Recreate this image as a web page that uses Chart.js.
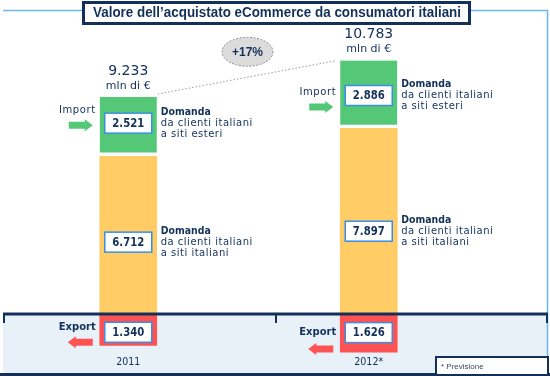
<!DOCTYPE html>
<html>
<head>
<meta charset="utf-8">
<script src="https://cdn.jsdelivr.net/npm/chart.js@4"></script>
<style>
  body { margin: 0; background: #fff; }
</style>
</head>
<body>
<canvas id="chart" width="550" height="376"></canvas>
<script>
// valori in milioni di euro
const years = ["2011", "2012*"];
const importVals = [2521, 2886];   // domanda da clienti italiani a siti esteri
const domesticVals = [6712, 7897]; // domanda da clienti italiani a siti italiani
const exportVals = [1340, 1626];   // export, disegnato sotto l'asse

const navy = "#12305a";
const boxBlue = "#3b8ee6";
const frameBlue = "#6cb6f0";
const green = "#55c878";
const yellow = "#ffcc66";
const red = "#ff5252";

const fmt = (v) => String(v).replace(/\B(?=(\d{3})+(?!\d))/g, ".");

function txt(ctx, s, x, y, font, color, align, maxW, spacing) {
  ctx.save();
  ctx.font = font;
  ctx.fillStyle = color;
  ctx.textAlign = align || "center";
  ctx.textBaseline = "middle";
  ctx.letterSpacing = spacing || "0px";
  if (maxW) ctx.fillText(s, x, y, maxW);
  else ctx.fillText(s, x, y);
  ctx.restore();
}

function arrow(ctx, from, to, y, color) {
  const dir = Math.sign(to - from), head = 8;
  ctx.fillStyle = color;
  ctx.beginPath();
  ctx.moveTo(from, y - 3.5);
  ctx.lineTo(to - dir * head, y - 3.5);
  ctx.lineTo(to - dir * head, y - 6);
  ctx.lineTo(to, y);
  ctx.lineTo(to - dir * head, y + 6);
  ctx.lineTo(to - dir * head, y + 3.5);
  ctx.lineTo(from, y + 3.5);
  ctx.closePath();
  ctx.fill();
}

function valueBox(ctx, cx, cy, s) {
  ctx.fillStyle = "#fff";
  ctx.fillRect(cx - 23.5, cy - 10, 47, 20);
  ctx.strokeStyle = boxBlue;
  ctx.lineWidth = 1.5;
  ctx.strokeRect(cx - 23.5, cy - 10, 47, 20);
  txt(ctx, s, cx, cy + 0.5, "bold 12px 'DejaVu Sans'", navy, "center", 32);
}

function describe(ctx, x, cy, lines) {
  txt(ctx, lines[0], x, cy - 11, "bold 10px 'DejaVu Sans'", navy, "left", 50);
  txt(ctx, lines[1], x, cy, "10px 'DejaVu Sans'", navy, "left", 92, "0.5px");
  txt(ctx, lines[2], x, cy + 11, "10px 'DejaVu Sans'", navy, "left", 92, "0.5px");
}

const backdrop = {
  id: "backdrop",
  beforeDatasetsDraw(chart) {
    const ctx = chart.ctx;
    const y0 = chart.scales.y.getPixelForValue(0);
    ctx.save();
    // fascia azzurra sotto l'asse
    ctx.fillStyle = "#e8f0f8";
    ctx.fillRect(3, y0, 544, 374 - y0);
    // cornice
    ctx.strokeStyle = frameBlue;
    ctx.lineWidth = 1.5;
    ctx.beginPath();
    ctx.moveTo(3, 10.5);
    ctx.lineTo(547.5, 10.5);
    ctx.lineTo(547.5, 374);
    ctx.stroke();
    ctx.restore();
  },
  afterDatasetsDraw(chart) {
    const ctx = chart.ctx;
    const y = chart.scales.y;
    const y0 = y.getPixelForValue(0);
    const dom = chart.getDatasetMeta(0).data;
    const imp = chart.getDatasetMeta(1).data;
    const exp = chart.getDatasetMeta(2).data;
    ctx.save();

    // asse e tacche
    ctx.fillStyle = navy;
    ctx.fillRect(3, y0 - 1.5, 545, 3);
    [3, 275, 546].forEach((x) => ctx.fillRect(x, y0, 2, 9));
    ctx.fillRect(0, 373, 550, 3);

    const gBoxDy = [-3.5, 1], yBoxDy = [7, 10], rBoxDy = [2.5, -0.5];
    const importDy = [-13, -3.5], expLblDy = [-5, 0], expArrDy = [10, 16.5];
    const totals = years.map((_, i) => importVals[i] + domesticVals[i]);

    years.forEach((lab, i) => {
      const g = imp[i], d = dom[i], r = exp[i];
      const left = g.x - g.width / 2, right = g.x + g.width / 2;

      // totale
      txt(ctx, fmt(totals[i]), g.x, g.y - 26, "14px 'DejaVu Sans'", navy);
      txt(ctx, "mln di €", g.x, g.y - 11, "11px 'DejaVu Sans'", navy);

      // import
      const gc = (g.y + g.base) / 2 + gBoxDy[i];
      valueBox(ctx, g.x, gc, fmt(importVals[i]));
      describe(ctx, right + 4, gc, ["Domanda", "da clienti italiani", "a siti esteri"]);
      txt(ctx, "Import", left - 4, gc + importDy[i], "10px 'DejaVu Sans'", navy, "right", 37, "0.6px");
      arrow(ctx, left - 31, left - 7, gc + importDy[i] + 15, green);

      // domanda interna
      const dc = (d.y + d.base) / 2 + yBoxDy[i];
      valueBox(ctx, d.x, dc, fmt(domesticVals[i]));
      describe(ctx, right + 4, dc, ["Domanda", "da clienti italiani", "a siti italiani"]);

      // export
      const rc = (r.y + r.base) / 2 + rBoxDy[i];
      valueBox(ctx, r.x, rc, fmt(exportVals[i]));
      txt(ctx, "Export", left - 4, rc + expLblDy[i], "bold 10px 'DejaVu Sans'", navy, "right", 37);
      arrow(ctx, left - 7, left - 32, rc + expArrDy[i], red);

      // anno
      txt(ctx, lab, g.x, 362, "10px 'DejaVu Sans'", navy, "center", lab.length > 4 ? 29 : 24);
    });

    // linea tratteggiata tra i totali e crescita
    const a = imp[0], b = imp[1];
    ctx.strokeStyle = "#9a9a9a";
    ctx.lineWidth = 1;
    ctx.setLineDash([1.5, 2]);
    ctx.beginPath();
    ctx.moveTo(a.x + a.width / 2 + 1, a.y - 3);
    ctx.lineTo(b.x - b.width / 2 - 4, b.y);
    ctx.stroke();

    const ex = (a.x + b.x) / 2 - 1, ey = (a.y + b.y) / 2 - 27;
    ctx.setLineDash([2, 1.5]);
    ctx.fillStyle = "#dcdcdc";
    ctx.strokeStyle = "#8c8c8c";
    ctx.beginPath();
    ctx.ellipse(ex, ey, 25.5, 14.5, 0, 0, Math.PI * 2);
    ctx.fill();
    ctx.stroke();
    ctx.setLineDash([]);
    const growth = Math.round((totals[1] / totals[0] - 1) * 100);
    txt(ctx, "+" + growth + "%", ex, ey + 0.5, "bold 12px 'Liberation Sans'", navy);

    // titolo
    ctx.fillStyle = "#fff";
    ctx.fillRect(83, 2, 387, 22);
    ctx.strokeStyle = navy;
    ctx.lineWidth = 3;
    ctx.strokeRect(83.5, 2.5, 386, 21);
    txt(ctx, "Valore dell’acquistato eCommerce da consumatori italiani", 277, 13.5,
      "bold 14px 'Liberation Sans'", navy, "center", 368);

    // nota
    ctx.fillStyle = "#fff";
    ctx.fillRect(436, 357, 113, 18);
    ctx.lineWidth = 2;
    ctx.strokeRect(436, 357, 112, 18);
    txt(ctx, "* Previsione", 441, 366.5, "8px 'Liberation Sans'", "#3a4a60", "left", 46);

    ctx.restore();
  },
};

new Chart(document.getElementById("chart").getContext("2d"), {
  type: "bar",
  data: {
    labels: years,
    datasets: [
      { label: "Domanda a siti italiani", data: domesticVals, backgroundColor: yellow, borderWidth: 0 },
      {
        label: "Import",
        data: importVals,
        backgroundColor: green,
        borderColor: "#fff",
        borderWidth: { top: 0, left: 0, right: 0, bottom: 4 },
        borderSkipped: false,
      },
      { label: "Export", data: exportVals.map((v) => -v), backgroundColor: red, borderWidth: 0 },
    ],
  },
  options: {
    responsive: false,
    animation: false,
    layout: { padding: { left: 8, right: 61, top: 0, bottom: 0 } },
    datasets: { bar: { barThickness: 57 } },
    plugins: { legend: { display: false }, tooltip: { enabled: false } },
    scales: {
      x: { stacked: true, display: false },
      y: { stacked: true, display: false, min: -2638, max: 13362 },
    },
  },
  plugins: [backdrop],
});
</script>
</body>
</html>
